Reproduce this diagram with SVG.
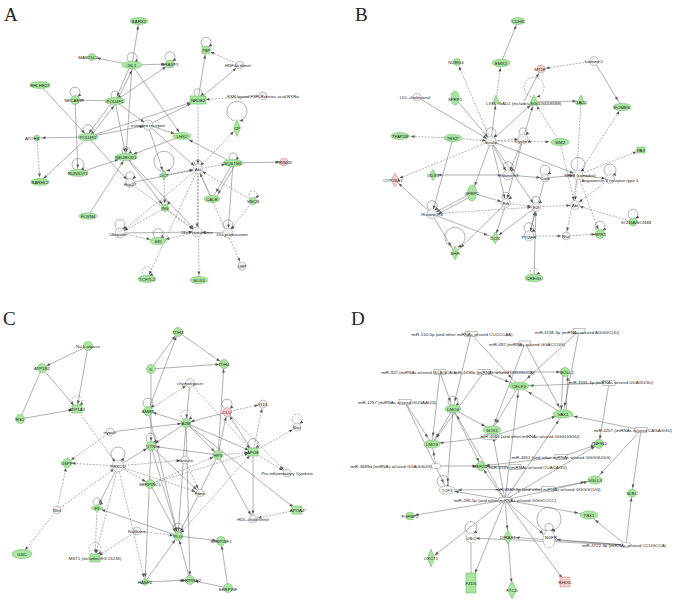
<svg xmlns="http://www.w3.org/2000/svg" width="686" height="606" viewBox="0 0 686 606">
<defs>
<style>
.g{fill:#a9e5a1;stroke:#74c46c;stroke-width:.6}
.w{fill:#f1f1f1;stroke:#a8a8a8;stroke-width:.6}
.wn{fill:#fff;stroke:#9a9a9a;stroke-width:.6}
.p{fill:#f6cccc;stroke:#d59a9a;stroke-width:.6}
.t{font-family:"Liberation Sans",Arial,sans-serif;font-size:4.4px;fill:#1e1e1e;text-anchor:middle;dominant-baseline:central}
.L{font-family:"Liberation Serif","Times New Roman",serif;font-size:19px;fill:#222}
.s,.d,.lp,.ld{stroke:#707070;stroke-width:.55;fill:none}
.d,.ld{stroke-dasharray:2 1.3}
.lp,.ld{marker-end:url(#a0)}
</style>
<marker id="a0" markerUnits="userSpaceOnUse" markerWidth="4" markerHeight="4" refX="3.5" refY="1.5" orient="auto" overflow="visible"><path d="M0,0L3.5,1.5L0,3z" fill="#555"/></marker>
<marker id="a5" markerUnits="userSpaceOnUse" markerWidth="4" markerHeight="4" refX="8.5" refY="1.5" orient="auto" overflow="visible"><path d="M0,0L3.5,1.5L0,3z" fill="#555"/></marker>
<marker id="a6" markerUnits="userSpaceOnUse" markerWidth="4" markerHeight="4" refX="9.5" refY="1.5" orient="auto" overflow="visible"><path d="M0,0L3.5,1.5L0,3z" fill="#555"/></marker>
<marker id="a8" markerUnits="userSpaceOnUse" markerWidth="4" markerHeight="4" refX="11.5" refY="1.5" orient="auto" overflow="visible"><path d="M0,0L3.5,1.5L0,3z" fill="#555"/></marker>
<marker id="a11" markerUnits="userSpaceOnUse" markerWidth="4" markerHeight="4" refX="14.5" refY="1.5" orient="auto" overflow="visible"><path d="M0,0L3.5,1.5L0,3z" fill="#555"/></marker>
</defs>
<rect width="686" height="606" fill="#fff"/>
<text class="L" x="4" y="21">A</text>
<text class="L" x="355" y="21">B</text>
<text class="L" x="3" y="325">C</text>
<text class="L" x="351" y="325">D</text>

<g id="connectors">
<!-- Panel A -->
<g class="s" marker-end="url(#a5)">
<line x1="132" y1="65" x2="139" y2="21"/><line x1="132" y1="65" x2="92" y2="57"/><line x1="132" y1="65" x2="170" y2="64"/>
<line x1="130" y1="66" x2="115" y2="101"/><line x1="117" y1="101" x2="134" y2="66"/><line x1="132" y1="65" x2="182" y2="136"/>
<line x1="132" y1="65" x2="126" y2="157"/><line x1="115" y1="101" x2="170" y2="64"/><line x1="115" y1="101" x2="75" y2="100"/>
<line x1="40" y1="85" x2="88" y2="137"/><line x1="198" y1="100" x2="206" y2="50"/><line x1="198" y1="100" x2="240" y2="65"/>
<line x1="115" y1="101" x2="148" y2="125"/><line x1="113" y1="101" x2="86" y2="137"/><line x1="90" y1="137" x2="117" y2="102"/>
<line x1="115" y1="101" x2="126" y2="157"/><line x1="88" y1="137" x2="37" y2="138"/><line x1="88" y1="137" x2="40" y2="182"/>
<line x1="88" y1="137" x2="130" y2="183"/><line x1="88" y1="137" x2="148" y2="125"/><line x1="75" y1="100" x2="78" y2="173"/>
<line x1="233" y1="163" x2="284" y2="162"/><line x1="130" y1="183" x2="198" y2="169"/><line x1="126" y1="157" x2="165" y2="208"/>
<line x1="212" y1="199" x2="198" y2="169"/><line x1="233" y1="163" x2="228" y2="233"/><line x1="120" y1="233" x2="197" y2="232"/>
<line x1="228" y1="233" x2="197" y2="232"/><line x1="88" y1="216" x2="126" y2="157"/><line x1="148" y1="125" x2="198" y2="169"/>
<line x1="126" y1="157" x2="197" y2="232"/><line x1="148" y1="125" x2="164" y2="175"/>
</g>
<g class="s" marker-end="url(#a8)">
<line x1="148" y1="125" x2="182" y2="136"/><line x1="88" y1="137" x2="198" y2="100"/><line x1="148" y1="125" x2="198" y2="100"/>
<line x1="78" y1="173" x2="126" y2="157"/><line x1="182" y1="136" x2="126" y2="157"/><line x1="233" y1="163" x2="182" y2="136"/>
<line x1="233" y1="163" x2="212" y2="199"/><line x1="235" y1="165" x2="214" y2="201"/>
</g>
<g class="d" marker-end="url(#a5)">
<line x1="240" y1="65" x2="206" y2="50"/><line x1="198" y1="100" x2="198" y2="169"/><line x1="37" y1="138" x2="40" y2="182"/>
<line x1="198" y1="169" x2="237" y2="128"/><line x1="164" y1="175" x2="198" y2="169"/><line x1="253" y1="201" x2="228" y2="233"/>
<line x1="198" y1="169" x2="197" y2="232"/><line x1="198" y1="169" x2="242" y2="266"/><line x1="198" y1="169" x2="199" y2="280"/>
<line x1="198" y1="169" x2="147" y2="279"/><line x1="198" y1="169" x2="120" y2="233"/><line x1="165" y1="208" x2="197" y2="232"/>
<line x1="165" y1="208" x2="120" y2="233"/><line x1="164" y1="175" x2="165" y2="208"/><line x1="130" y1="183" x2="197" y2="232"/>
<line x1="253" y1="201" x2="198" y2="169"/>
</g>
<g class="d" marker-end="url(#a8)">
<line x1="263" y1="96" x2="198" y2="100"/><line x1="198" y1="169" x2="233" y2="163"/><line x1="197" y1="232" x2="158" y2="241"/>
<line x1="120" y1="233" x2="158" y2="241"/>
</g>
<g>
<path class="lp" d="M129.5,62A5,5 0 1 1 134.5,62"/><path class="lp" d="M167.5,61A5,5 0 1 1 172.5,61"/>
<path class="lp" d="M203.5,46.5A5,5 0 1 1 208.5,46.5"/><path class="lp" d="M72.5,96.5A5,5 0 1 1 77.5,96.5"/>
<path class="lp" d="M112.5,98A4,4 0 1 1 117.5,98"/><path class="lp" d="M195.5,96A4,4 0 1 1 200.5,96"/>
<path class="lp" d="M85.5,134A5,5 0 1 1 90.5,134"/><path class="lp" d="M75.5,170A6,6 0 1 1 80.5,170"/>
<path class="lp" d="M234.5,121A10,10 0 1 1 239.5,121"/><path class="lp" d="M123.5,154A4,4 0 1 1 128.5,154"/>
<path class="lp" d="M161.5,171A10,10 0 1 1 166.5,171"/><path class="lp" d="M127.5,179A4,4 0 1 1 132.5,179"/>
<path class="lp" d="M195.5,165.5A3.5,3.5 0 1 1 200.5,165.5"/><path class="lp" d="M230.5,160A4,4 0 1 1 235.5,160"/>
<path class="ld" d="M250.5,198A4,4 0 1 1 255.5,198"/><path class="lp" d="M162.5,205A3,3 0 1 1 167.5,205"/>
<path class="lp" d="M117.5,229A5,5 0 1 1 122.5,229"/><path class="lp" d="M155.5,238A5,5 0 1 1 160.5,238"/>
<path class="lp" d="M225.5,229A5,5 0 1 1 230.5,229"/><path class="ld" d="M144.5,276A5,5 0 1 1 149.5,276"/>
</g>

<!-- Panel B -->
<g class="s" marker-end="url(#a5)">
<line x1="501" y1="63" x2="518" y2="21"/><line x1="524" y1="101" x2="541" y2="69"/><line x1="417" y1="97" x2="491" y2="141"/>
<line x1="455" y1="98" x2="491" y2="141"/><line x1="491" y1="141" x2="496" y2="101"/><line x1="491" y1="141" x2="534" y2="102"/>
<line x1="523" y1="139" x2="534" y2="102"/><line x1="534" y1="102" x2="581" y2="101"/><line x1="491" y1="141" x2="508" y2="175"/>
<line x1="491" y1="141" x2="536" y2="207"/><line x1="491" y1="141" x2="506" y2="203"/><line x1="491" y1="141" x2="578" y2="175"/>
<line x1="508" y1="175" x2="433" y2="175"/><line x1="523" y1="139" x2="508" y2="175"/><line x1="523" y1="139" x2="506" y2="203"/>
<line x1="578" y1="175" x2="610" y2="179"/><line x1="545" y1="178" x2="578" y2="175"/><line x1="508" y1="175" x2="545" y2="178"/>
<line x1="472" y1="193" x2="432" y2="214"/><line x1="474" y1="195" x2="434" y2="216"/><line x1="432" y1="214" x2="395" y2="180"/>
<line x1="506" y1="203" x2="495" y2="238"/><line x1="536" y1="207" x2="495" y2="238"/><line x1="534" y1="278" x2="536" y2="207"/>
<line x1="529" y1="236" x2="536" y2="207"/><line x1="453" y1="138" x2="432" y2="214"/><line x1="472" y1="193" x2="506" y2="203"/>
<line x1="545" y1="178" x2="529" y2="236"/>
</g>
<g class="s" marker-end="url(#a8)">
<line x1="594" y1="61" x2="622" y2="107"/><line x1="491" y1="141" x2="472" y2="193"/><line x1="432" y1="214" x2="455" y2="253"/>
<line x1="432" y1="214" x2="495" y2="238"/><line x1="506" y1="203" x2="455" y2="253"/>
</g>
<g class="d" marker-end="url(#a5)">
<line x1="491" y1="141" x2="457" y2="62"/><line x1="496" y1="101" x2="501" y2="63"/><line x1="594" y1="61" x2="541" y2="69"/>
<line x1="453" y1="138" x2="491" y2="141"/><line x1="560" y1="142" x2="534" y2="102"/><line x1="581" y1="101" x2="575" y2="205"/>
<line x1="578" y1="175" x2="622" y2="107"/><line x1="491" y1="141" x2="523" y2="139"/><line x1="491" y1="141" x2="395" y2="180"/>
<line x1="560" y1="142" x2="575" y2="205"/><line x1="578" y1="175" x2="641" y2="150"/><line x1="432" y1="214" x2="536" y2="207"/>
<line x1="506" y1="203" x2="536" y2="207"/><line x1="536" y1="207" x2="575" y2="205"/><line x1="633" y1="222" x2="575" y2="205"/>
<line x1="529" y1="236" x2="566" y2="236"/><line x1="566" y1="236" x2="600" y2="234"/><line x1="578" y1="175" x2="566" y2="236"/>
<line x1="578" y1="175" x2="600" y2="234"/><line x1="610" y1="179" x2="575" y2="205"/>
</g>
<g class="d" marker-end="url(#a11)">
<line x1="453" y1="138" x2="400" y2="136"/><line x1="491" y1="141" x2="560" y2="142"/>
</g>
<g>
<path class="lp" d="M488.5,137A5,5 0 1 1 493.5,137"/><path class="lp" d="M520.5,135A4,4 0 1 1 525.5,135"/>
<path class="ld" d="M531.5,97A10,10 0 1 1 536.5,97"/><path class="lp" d="M505.5,171A5,5 0 1 1 510.5,171"/>
<path class="lp" d="M542.5,174.5A5,5 0 1 1 547.5,174.5"/><path class="lp" d="M575.5,171A7,7 0 1 1 580.5,171"/>
<path class="lp" d="M607.5,175.5A6,6 0 1 1 612.5,175.5"/><path class="lp" d="M429.5,210A5,5 0 1 1 434.5,210"/>
<path class="lp" d="M452.5,247A10,10 0 1 1 457.5,247"/><path class="lp" d="M597.5,230.5A5,5 0 1 1 602.5,230.5"/>
<path class="lp" d="M526.5,232A5,5 0 1 1 531.5,232"/><path class="lp" d="M630.5,218.5A5,5 0 1 1 635.5,218.5"/>
<path class="ld" d="M531.5,275A4,4 0 1 1 536.5,275"/><path class="lp" d="M503.5,199.5A4,4 0 1 1 508.5,199.5"/>
<path class="lp" d="M533.5,203.5A4,4 0 1 1 538.5,203.5"/>
</g>

<!-- Panel C -->
<g class="s" marker-end="url(#a5)">
<line x1="88" y1="346" x2="42" y2="368"/><line x1="88" y1="346" x2="77" y2="409"/><line x1="42" y1="368" x2="77" y2="409"/>
<line x1="151" y1="369" x2="178" y2="332"/><line x1="148" y1="411" x2="178" y2="332"/><line x1="151" y1="369" x2="224" y2="364"/>
<line x1="178" y1="332" x2="224" y2="364"/><line x1="218" y1="455" x2="224" y2="364"/><line x1="151" y1="369" x2="151" y2="446"/>
<line x1="110" y1="432" x2="186" y2="423"/><line x1="186" y1="423" x2="148" y2="411"/><line x1="186" y1="423" x2="151" y2="446"/>
<line x1="186" y1="423" x2="218" y2="455"/><line x1="186" y1="423" x2="253" y2="452"/><line x1="227" y1="412" x2="186" y2="423"/>
<line x1="253" y1="452" x2="227" y2="412"/><line x1="218" y1="455" x2="227" y2="412"/><line x1="218" y1="455" x2="151" y2="446"/>
<line x1="186" y1="423" x2="297" y2="510"/><line x1="118" y1="466" x2="151" y2="446"/><line x1="150" y1="484" x2="178" y2="536"/>
<line x1="151" y1="446" x2="178" y2="536"/><line x1="178" y1="536" x2="97" y2="508"/><line x1="118" y1="466" x2="97" y2="508"/>
<line x1="178" y1="536" x2="221" y2="541"/><line x1="228" y1="588" x2="221" y2="541"/><line x1="145" y1="582" x2="178" y2="536"/>
<line x1="145" y1="582" x2="190" y2="580"/><line x1="228" y1="588" x2="190" y2="580"/><line x1="190" y1="580" x2="178" y2="536"/>
<line x1="151" y1="446" x2="145" y2="582"/><line x1="218" y1="455" x2="178" y2="536"/><line x1="186" y1="423" x2="190" y2="580"/>
<line x1="186" y1="423" x2="178" y2="536"/><line x1="148" y1="411" x2="178" y2="536"/><line x1="151" y1="446" x2="200" y2="493"/>
<line x1="218" y1="455" x2="253" y2="519"/><line x1="253" y1="452" x2="253" y2="519"/><line x1="190" y1="383" x2="186" y2="423"/>
<line x1="20" y1="419" x2="77" y2="409"/>
</g>
<line class="s" x1="42" y1="368" x2="20" y2="419"/>
<g class="d" marker-end="url(#a5)">
<line x1="148" y1="411" x2="190" y2="383"/><line x1="190" y1="383" x2="253" y2="452"/><line x1="77" y1="409" x2="118" y2="466"/>
<line x1="110" y1="432" x2="67" y2="463"/><line x1="227" y1="412" x2="263" y2="404"/><line x1="253" y1="452" x2="263" y2="404"/>
<line x1="253" y1="452" x2="297" y2="427"/><line x1="218" y1="455" x2="253" y2="452"/><line x1="253" y1="452" x2="287" y2="473"/>
<line x1="227" y1="412" x2="287" y2="473"/><line x1="118" y1="466" x2="67" y2="463"/><line x1="118" y1="466" x2="150" y2="484"/>
<line x1="118" y1="466" x2="185" y2="460"/><line x1="185" y1="460" x2="200" y2="493"/><line x1="118" y1="466" x2="200" y2="493"/>
<line x1="150" y1="484" x2="218" y2="455"/><line x1="150" y1="484" x2="253" y2="452"/><line x1="297" y1="510" x2="253" y2="519"/>
<line x1="178" y1="536" x2="253" y2="452"/><line x1="97" y1="508" x2="95" y2="558"/><line x1="137" y1="531" x2="178" y2="536"/>
<line x1="137" y1="531" x2="95" y2="558"/><line x1="118" y1="466" x2="95" y2="558"/><line x1="118" y1="466" x2="145" y2="582"/>
<line x1="57" y1="510" x2="22" y2="554"/><line x1="57" y1="510" x2="67" y2="463"/><line x1="57" y1="510" x2="118" y2="466"/>
</g>
<g>
<path class="ld" d="M74.5,405A5,5 0 1 1 79.5,405"/><path class="lp" d="M145.5,407.5A5,5 0 1 1 150.5,407.5"/>
<path class="ld" d="M183.5,419.5A5,5 0 1 1 188.5,419.5"/><path class="lp" d="M224.5,408.5A5,5 0 1 1 229.5,408.5"/>
<path class="ld" d="M294.5,423.5A5,5 0 1 1 299.5,423.5"/><path class="lp" d="M148.5,442.5A5,5 0 1 1 153.5,442.5"/>
<path class="lp" d="M250.5,448A5,5 0 1 1 255.5,448"/><path class="lp" d="M115.5,460.5A7,7 0 1 1 120.5,460.5"/>
<path class="lp" d="M94.5,505A4,4 0 1 1 99.5,505"/><path class="lp" d="M175.5,532.5A5,5 0 1 1 180.5,532.5"/>
<path class="ld" d="M92.5,554A6,6 0 1 1 97.5,554"/>
</g>

<!-- Panel D -->
<g class="s" marker-end="url(#a8)">
<line x1="471" y1="334" x2="453" y2="409"/><line x1="579" y1="331" x2="563" y2="414"/><line x1="525" y1="343" x2="563" y2="414"/>
<line x1="525" y1="343" x2="492" y2="430"/><line x1="440" y1="372" x2="432" y2="444"/><line x1="440" y1="372" x2="453" y2="409"/>
<line x1="484" y1="372" x2="432" y2="444"/><line x1="405" y1="402" x2="432" y2="444"/><line x1="453" y1="409" x2="492" y2="430"/>
<line x1="453" y1="409" x2="432" y2="444"/><line x1="453" y1="409" x2="447" y2="490"/><line x1="519" y1="386" x2="492" y2="430"/>
<line x1="641" y1="430" x2="595" y2="480"/><line x1="490" y1="437" x2="432" y2="444"/><line x1="490" y1="437" x2="563" y2="414"/>
<line x1="436" y1="466" x2="432" y2="444"/><line x1="505" y1="500" x2="508" y2="537"/><line x1="508" y1="537" x2="512" y2="590"/>
<line x1="505" y1="500" x2="549" y2="539"/><line x1="505" y1="500" x2="447" y2="490"/><line x1="505" y1="500" x2="492" y2="430"/>
<line x1="505" y1="500" x2="595" y2="480"/><line x1="505" y1="500" x2="563" y2="414"/><line x1="505" y1="500" x2="519" y2="386"/>
<line x1="505" y1="500" x2="453" y2="409"/><line x1="626" y1="545" x2="589" y2="515"/><line x1="626" y1="545" x2="508" y2="537"/>
<line x1="626" y1="545" x2="549" y2="539"/><line x1="405" y1="402" x2="447" y2="490"/>
</g>
<g class="s" marker-end="url(#a11)">
<line x1="471" y1="334" x2="519" y2="386"/><line x1="579" y1="331" x2="519" y2="386"/><line x1="484" y1="372" x2="519" y2="386"/>
<line x1="609" y1="383" x2="519" y2="386"/><line x1="563" y1="414" x2="519" y2="386"/><line x1="641" y1="430" x2="563" y2="414"/>
<line x1="548" y1="489" x2="595" y2="480"/><line x1="548" y1="489" x2="447" y2="490"/><line x1="505" y1="500" x2="589" y2="515"/>
</g>
<g class="s" marker-end="url(#a5)">
<line x1="484" y1="372" x2="565" y2="372"/><line x1="563" y1="372" x2="561" y2="414"/><line x1="566" y1="414" x2="568" y2="372"/>
<line x1="609" y1="383" x2="599" y2="444"/><line x1="453" y1="409" x2="481" y2="466"/><line x1="641" y1="430" x2="632" y2="493"/>
<line x1="561" y1="457" x2="599" y2="444"/><line x1="561" y1="457" x2="481" y2="466"/><line x1="436" y1="466" x2="481" y2="466"/>
<line x1="515" y1="467" x2="481" y2="466"/><line x1="505" y1="500" x2="410" y2="516"/><line x1="505" y1="500" x2="431" y2="558"/>
<line x1="505" y1="500" x2="565" y2="582"/><line x1="505" y1="500" x2="481" y2="466"/><line x1="505" y1="500" x2="599" y2="444"/>
<line x1="626" y1="545" x2="471" y2="538"/><line x1="626" y1="545" x2="632" y2="493"/>
</g>
<line class="s" x1="505" y1="500" x2="471" y2="583" marker-end="url(#a11)"/>
<line class="s" x1="471" y1="538" x2="471" y2="573"/>
<g>
<path class="lp" d="M450.5,405.5A5,5 0 1 1 455.5,405.5"/><path class="lp" d="M440.5,487A6,6 0 1 1 445.5,487"/>
<path class="lp" d="M468.5,533A6,6 0 1 1 473.5,533"/><path class="lp" d="M546.5,531A12,12 0 1 1 551.5,531"/>
<path class="lp" d="M547.5,531A4,4 0 1 1 550.5,531"/>
</g>
</g>

<!-- Panel A nodes -->
<g id="a-barx1"><ellipse class="g" cx="139" cy="21" rx="9" ry="3.4"/><text class="t" x="139" y="21">BARX1</text></g>
<g id="a-mab21l2"><circle class="g" cx="92" cy="57" r="3.5"/><text class="t" x="88" y="57">MAB21L2</text></g>
<g id="a-isl1"><ellipse class="g" cx="132" cy="65" rx="10" ry="3.6"/><text class="t" x="132" y="65">ISL1</text></g>
<g id="a-draxp1"><circle class="g" cx="170" cy="64" r="4"/><text class="t" x="170" y="64">DRAXP1</text></g>
<g id="a-tbp"><rect class="g" x="202" y="46.5" width="8" height="7"/><text class="t" x="206" y="50">TBP</text></g>
<g id="a-hnf4"><circle class="w" cx="240" cy="65" r="4"/><text class="t" x="238" y="65">HNF4α dimer</text></g>
<g id="a-bhlhe22"><ellipse class="g" cx="40" cy="85" rx="10" ry="3.4"/><text class="t" x="40" y="85">BHLHE22</text></g>
<g id="a-necab1"><circle class="g" cx="75" cy="100" r="4.5"/><text class="t" x="73" y="100">NECAB1</text></g>
<g id="a-pou4f1"><ellipse class="g" cx="115" cy="101" rx="10" ry="3.4"/><text class="t" x="115" y="101">POU4F1</text></g>
<g id="a-nr0b2"><rect class="g" x="190" y="96" width="16" height="8"/><text class="t" x="198" y="100">NR0B2</text></g>
<g id="a-fxr"><circle class="w" cx="263" cy="96" r="4"/><text class="t" x="263" y="96">FXR ligand-FXR-Retinoic acid-RXRα</text></g>
<g id="a-er"><circle class="w" cx="148" cy="125" r="5"/><text class="t" x="148" y="125">estrogen receptor</text></g>
<g id="a-atoh8"><circle class="g" cx="37" cy="138" r="3"/><text class="t" x="32" y="138">ATOH8</text></g>
<g id="a-pou4f2"><ellipse class="g" cx="88" cy="137" rx="10" ry="3.6"/><text class="t" x="88" y="137">POU4F2</text></g>
<g id="a-lhx2"><ellipse class="g" cx="182" cy="136" rx="9" ry="3.4"/><text class="t" x="182" y="136">LHX2</text></g>
<g id="a-cp"><polygon class="g" points="237,119.5 240.5,128 237,136.5 233.5,128"/><text class="t" x="237" y="128">CP</text></g>
<g id="a-neurod1"><ellipse class="g" cx="126" cy="157" rx="11" ry="3.6"/><text class="t" x="126" y="157">NEUROD1</text></g>
<g id="a-runx1t1"><ellipse class="g" cx="78" cy="173" rx="10" ry="3.4"/><text class="t" x="78" y="173">RUNX1T1</text></g>
<g id="a-barhl2"><ellipse class="g" cx="40" cy="182" rx="9" ry="3.4"/><text class="t" x="40" y="182">BARHL2</text></g>
<g id="a-dct"><polygon class="g" points="164,170 167,175 164,180 161,175"/><text class="t" x="164" y="175">DCT</text></g>
<g id="a-akt"><circle class="w" cx="198" cy="169" r="5"/><text class="t" x="198" y="169">Akt</text></g>
<g id="a-sqstm1"><ellipse class="g" cx="233" cy="163" rx="10" ry="3.4"/><text class="t" x="233" y="163">SQSTM1</text></g>
<g id="a-trim69"><circle class="p" cx="284" cy="162" r="4"/><text class="t" x="284" y="162">TRIM69</text></g>
<g id="a-hsp27"><circle class="w" cx="130" cy="183" r="4.5"/><text class="t" x="130" y="184">Hsp27</text></g>
<g id="a-calr"><ellipse class="g" cx="212" cy="199" rx="8" ry="3.4"/><text class="t" x="212" y="199">CALR</text></g>
<g id="a-sncb"><circle class="g" cx="253" cy="201" r="3.5"/><text class="t" x="253" y="201">SNCB</text></g>
<g id="a-ins"><circle class="g" cx="165" cy="208" r="3.5"/><text class="t" x="165" y="208">INS</text></g>
<g id="a-foxn4"><ellipse class="g" cx="88" cy="216" rx="9" ry="3.2"/><text class="t" x="88" y="216">FOXN4</text></g>
<g id="a-ubiquitin"><circle class="w" cx="120" cy="233" r="5"/><text class="t" x="118" y="234">Ubiquitin</text></g>
<g id="a-ski"><ellipse class="g" cx="158" cy="241" rx="8" ry="3.6"/><text class="t" x="158" y="241">SKI</text></g>
<g id="a-p26"><circle class="w" cx="197" cy="232" r="5"/><text class="t" x="197" y="232">26s Proteasome</text></g>
<g id="a-p20"><circle class="w" cx="228" cy="233" r="5"/><text class="t" x="232" y="234">20s proteasome</text></g>
<g id="a-lrp"><circle class="w" cx="242" cy="266" r="4"/><text class="t" x="242" y="266">LRP</text></g>
<g id="a-tcf7l2"><ellipse class="g" cx="147" cy="279" rx="9" ry="3.4"/><text class="t" x="147" y="279">TCF7L2</text></g>
<g id="a-sox4"><ellipse class="g" cx="199" cy="280" rx="9" ry="3.6"/><text class="t" x="199" y="280">SOX4</text></g>

<!-- Panel B nodes -->
<g id="b-cdh6"><ellipse class="g" cx="518" cy="21" rx="7" ry="3.4"/><text class="t" x="518" y="21">CDH6</text></g>
<g id="b-ndrg4"><circle class="g" cx="457" cy="62" r="3.5"/><text class="t" x="456" y="62">NDRG4</text></g>
<g id="b-emx2"><ellipse class="g" cx="501" cy="63" rx="9" ry="3.8"/><text class="t" x="501" y="63">EMX2</text></g>
<g id="b-mt1f"><circle class="p" cx="541" cy="69" r="4"/><text class="t" x="540" y="69">MT1F</text></g>
<g id="b-laminin1"><circle class="w" cx="594" cy="61" r="4.5"/><text class="t" x="594" y="61">Laminin1</text></g>
<g id="b-ldl"><circle class="w" cx="417" cy="97" r="4"/><text class="t" x="415" y="97">LDL-cholesterol</text></g>
<g id="b-sfrp2"><ellipse class="g" cx="455" cy="98" rx="4" ry="7"/><text class="t" x="455" y="99">SFRP2</text></g>
<g id="b-lig1"><polygon class="g" points="496,95 500,104 492,104"/><text class="t" x="491" y="103">LIG1</text></g>
<g id="b-gad1"><polygon class="g" points="534,95 539,105 529,105"/><text class="t" x="530" y="103">GAD1 (includes EG:100008588)</text></g>
<g id="b-gad2"><polygon class="g" points="581,95 585.5,104.5 576.5,104.5"/><text class="t" x="581" y="102">GAD2</text></g>
<g id="b-eomes"><ellipse class="g" cx="622" cy="107" rx="9" ry="3.6"/><text class="t" x="622" y="107">EOMES</text></g>
<g id="b-tfap2b"><ellipse class="g" cx="400" cy="136" rx="9" ry="3.4"/><text class="t" x="400" y="136">TFAP2B</text></g>
<g id="b-tbx2"><ellipse class="g" cx="453" cy="138" rx="9" ry="3.6"/><text class="t" x="453" y="138">TBX2*</text></g>
<g id="b-insulin"><circle class="w" cx="491" cy="141" r="5"/><text class="t" x="491" y="142">Insulin</text></g>
<g id="b-cyclina"><circle class="w" cx="523" cy="139" r="5"/><text class="t" x="523" y="141">Cyclin A</text></g>
<g id="b-sim2"><ellipse class="g" cx="560" cy="142" rx="9" ry="3.6"/><text class="t" x="560" y="142">SIM2</text></g>
<g id="b-pax"><rect class="g" x="637" y="147" width="8" height="6"/><text class="t" x="641" y="150">PAX</text></g>
<g id="b-cyp26a1"><polygon class="p" points="395,173 399,180 395,187 391,180"/><text class="t" x="393" y="180">CYP26A1</text></g>
<g id="b-ddx4"><polygon class="g" points="433,169.5 436.5,175 433,180.5 429.5,175"/><text class="t" x="433" y="175">DDX4</text></g>
<g id="b-histoneh3"><circle class="w" cx="508" cy="175" r="5"/><text class="t" x="508" y="175">Histone h3</text></g>
<g id="b-creb"><circle class="w" cx="545" cy="178" r="4"/><text class="t" x="545" y="178">Creb</text></g>
<g id="b-nfkb"><circle class="w" cx="578" cy="175" r="5"/><text class="t" x="580" y="175">NFkB (complex)</text></g>
<g id="b-at1"><circle class="w" cx="610" cy="179" r="4.5"/><text class="t" x="610" y="180">Angiotensin II receptor type 1</text></g>
<g id="b-sfrp1"><ellipse class="g" cx="472" cy="193" rx="4.5" ry="8"/><text class="t" x="472" y="193">SFRP1</text></g>
<g id="b-erk"><circle class="w" cx="506" cy="203" r="4.5"/><text class="t" x="506" y="203">Erk</text></g>
<g id="b-e2f"><circle class="w" cx="536" cy="207" r="4.5"/><text class="t" x="536" y="207">E2f</text></g>
<g id="b-akt"><circle class="w" cx="575" cy="205" r="4.5"/><text class="t" x="575" y="205">Akt</text></g>
<g id="b-scn"><circle class="g" cx="633" cy="222" r="4"/><text class="t" x="636" y="222">SCN3A/SCN3B</text></g>
<g id="b-histoneh4"><circle class="w" cx="432" cy="214" r="5"/><text class="t" x="432" y="214">Histone H4</text></g>
<g id="b-dcn"><polygon class="g" points="495,232 498.5,238 495,244 491.5,238"/><text class="t" x="495" y="238">DCN</text></g>
<g id="b-ptgfr"><circle class="w" cx="529" cy="236" r="5"/><text class="t" x="529" y="237">PTGFR</text></g>
<g id="b-ras"><circle class="w" cx="566" cy="236" r="4"/><text class="t" x="566" y="236">Ras</text></g>
<g id="b-npr3"><circle class="g" cx="600" cy="234" r="4.5"/><text class="t" x="600" y="234">NPR3</text></g>
<g id="b-shh"><polygon class="g" points="455,246 458.5,253 455,260 451.5,253"/><text class="t" x="455" y="253">SHH</text></g>
<g id="b-creg1"><ellipse class="g" cx="534" cy="278" rx="9" ry="3.8"/><text class="t" x="534" y="278">CREG1</text></g>

<!-- Panel C nodes -->
<g id="c-nak"><circle class="g" cx="88" cy="346" r="4.5"/><text class="t" x="88" y="346">Na-k-atpase</text></g>
<g id="c-itih3"><circle class="g" cx="178" cy="332" r="4.5"/><text class="t" x="178" y="332">ITIH3</text></g>
<g id="c-atp1b2"><circle class="g" cx="42" cy="368" r="4.5"/><text class="t" x="42" y="368">ATP1B2</text></g>
<g id="c-il"><circle class="g" cx="151" cy="369" r="4.5"/><text class="t" x="151" y="369">IL</text></g>
<g id="c-itih4"><circle class="g" cx="224" cy="364" r="4.5"/><text class="t" x="224" y="364">ITIH4</text></g>
<g id="c-chy"><circle class="w" cx="190" cy="383" r="4.5"/><text class="t" x="190" y="383">chymotrypsin</text></g>
<g id="c-vldl"><circle class="w" cx="263" cy="404" r="4"/><text class="t" x="263" y="404">VLDL</text></g>
<g id="c-atp1a3"><rect class="g" x="72" y="405" width="10" height="8"/><text class="t" x="77" y="409">ATP1A3</text></g>
<g id="c-rs1"><circle class="g" cx="20" cy="419" r="4.5"/><text class="t" x="20" y="419">RS1</text></g>
<g id="c-ambp"><circle class="g" cx="148" cy="411" r="4.5"/><text class="t" x="148" y="411">AMBP</text></g>
<g id="c-a2m"><circle class="g" cx="186" cy="423" r="4.5"/><text class="t" x="186" y="423">A2M</text></g>
<g id="c-clu"><circle class="p" cx="227" cy="412" r="4.5"/><text class="t" x="227" y="412">CLU</text></g>
<g id="c-trypsin"><circle class="w" cx="110" cy="432" r="4"/><text class="t" x="110" y="432">trypsin</text></g>
<g id="c-nos"><circle class="w" cx="297" cy="427" r="4"/><text class="t" x="297" y="427">Nos</text></g>
<g id="c-vtn"><circle class="g" cx="151" cy="446" r="4.5"/><text class="t" x="151" y="446">VTN</text></g>
<g id="c-hpx"><circle class="g" cx="218" cy="455" r="4.5"/><text class="t" x="218" y="455">HPX</text></g>
<g id="c-apoe"><rect class="g" x="248" y="448" width="10" height="8"/><text class="t" x="253" y="452">APOE</text></g>
<g id="c-dspp"><circle class="g" cx="67" cy="463" r="4.5"/><text class="t" x="67" y="463">DSPP</text></g>
<g id="c-elastase"><circle class="w" cx="185" cy="460" r="4"/><text class="t" x="185" y="460">elastase</text></g>
<g id="c-prkcd"><circle class="w" cx="118" cy="466" r="6"/><text class="t" x="118" y="466">PRKCD</text></g>
<g id="c-pic"><circle class="w" cx="287" cy="473" r="4"/><text class="t" x="287" y="473">Pro-inflammatory Cytokine</text></g>
<g id="c-serpinc1"><circle class="g" cx="150" cy="484" r="4.5"/><text class="t" x="150" y="484">SERPINC1</text></g>
<g id="c-fibrin"><circle class="w" cx="200" cy="493" r="4"/><text class="t" x="200" y="493">Fibrin</text></g>
<g id="c-f9"><polygon class="g" points="91,508 97,504.5 103,508 97,511.5"/><text class="t" x="97" y="508">F9</text></g>
<g id="c-wnt"><circle class="w" cx="57" cy="510" r="4"/><text class="t" x="57" y="510">Wnt</text></g>
<g id="c-apoa4"><rect class="g" x="292" y="506" width="10" height="8"/><text class="t" x="298" y="510">APOA4*</text></g>
<g id="c-hdlc"><circle class="w" cx="253" cy="519" r="4"/><text class="t" x="253" y="519">HDL-cholesterol</text></g>
<g id="c-kallikrein"><circle class="w" cx="137" cy="531" r="4"/><text class="t" x="137" y="531">Kallikrein</text></g>
<g id="c-plg"><circle class="g" cx="178" cy="536" r="4.5"/><text class="t" x="178" y="536">PLG</text></g>
<g id="c-serpinf1"><circle class="g" cx="221" cy="541" r="4.5"/><text class="t" x="221" y="541">SERPINF1</text></g>
<g id="c-gsc"><ellipse class="g" cx="22" cy="554" rx="10" ry="4.5"/><text class="t" x="22" y="554">GSC</text></g>
<g id="c-mst1"><rect class="g" x="90" y="554" width="10" height="8"/><text class="t" x="95" y="558">MST1 (includes EG:15235)</text></g>
<g id="c-habp2"><polygon class="g" points="139,582 145,578.5 151,582 145,585.5"/><text class="t" x="145" y="582">HABP2</text></g>
<g id="c-serpine2"><circle class="g" cx="190" cy="580" r="4.5"/><text class="t" x="190" y="580">SERPINE2</text></g>
<g id="c-serpinf"><circle class="g" cx="228" cy="588" r="4.5"/><text class="t" x="228" y="589">SERPINF</text></g>

<!-- Panel D nodes -->
<g id="d-m150"><rect class="wn" x="465" y="331.5" width="12" height="5"/><text class="t" x="462" y="334">miR-150-5p (and other miRNAs w/seed CUCCCAA)</text></g>
<g id="d-m3158"><rect class="wn" x="573" y="328.5" width="12" height="5"/><text class="t" x="577" y="332">miR-3158-3p (miRNAs w/seed AGGGCUU)</text></g>
<g id="d-m492"><rect class="wn" x="519" y="341" width="12" height="5"/><text class="t" x="527" y="344">miR-492 (miRNAs w/seed GGACCUG)</text></g>
<g id="d-m922"><rect class="wn" x="434" y="369.5" width="12" height="5"/><text class="t" x="419" y="372">miR-922 (miRNAs w/seed GCAGCAG)</text></g>
<g id="d-m2"><rect class="wn" x="478" y="369.5" width="12" height="5"/><text class="t" x="494" y="372">miR-4436b (miRNAs w/seed UGUGUCA)</text></g>
<g id="d-boll2"><circle class="g" cx="565" cy="372" r="4.5"/><text class="t" x="567" y="372">BOLL2</text></g>
<g id="d-celf3"><ellipse class="g" cx="519" cy="386" rx="10" ry="3.8"/><text class="t" x="519" y="386">CELF3</text></g>
<g id="d-m3591"><rect class="wn" x="603" y="380.5" width="12" height="5"/><text class="t" x="611" y="382">miR-3591-5p (miRNAs w/seed UUAGUGU)</text></g>
<g id="d-m1257"><rect class="wn" x="399" y="399.5" width="12" height="5"/><text class="t" x="397" y="402">miR-1257 (miRNAs w/seed GUGAAUG)</text></g>
<g id="d-lmo4"><ellipse class="g" cx="453" cy="409" rx="8" ry="3.8"/><text class="t" x="453" y="409">LMO4</text></g>
<g id="d-vax1"><ellipse class="g" cx="563" cy="414" rx="10" ry="4"/><text class="t" x="563" y="414">VAX1</text></g>
<g id="d-sox1"><ellipse class="g" cx="492" cy="430" rx="9" ry="4"/><text class="t" x="492" y="430">SOX1</text></g>
<g id="d-m4257"><rect class="wn" x="635" y="427.5" width="12" height="5"/><text class="t" x="633" y="430">miR-4257 (miRNAs w/seed CAGAGGU)</text></g>
<g id="d-mx"><rect class="wn" x="484" y="434.5" width="12" height="5"/><text class="t" x="530" y="436">miR-4466 (and other miRNAs w/seed GGGUGGU)</text></g>
<g id="d-lmo3"><ellipse class="g" cx="432" cy="444" rx="8" ry="4"/><text class="t" x="432" y="444">LMO3</text></g>
<g id="d-znf362"><circle class="g" cx="599" cy="444" r="4.5"/><text class="t" x="599" y="443">ZNF362</text></g>
<g id="d-m4651"><rect class="wn" x="555" y="454.5" width="12" height="5"/><text class="t" x="561" y="457">miR-4651 (and other miRNAs w/seed GGGGUGG)</text></g>
<g id="d-m3689"><ellipse class="wn" cx="436" cy="466" rx="5" ry="2.5"/><text class="t" x="391" y="466">miR-3689d (miRNAs w/seed GGAGGUG)</text></g>
<g id="d-mcu"><rect class="wn" x="509" y="464.5" width="12" height="5"/><text class="t" x="528" y="467">miR-4745 (miRNAs w/seed CUACAGU)</text></g>
<g id="d-mef2c"><circle class="g" cx="481" cy="466" r="4.5"/><text class="t" x="480" y="466">MEF2C</text></g>
<g id="d-vgll3"><ellipse class="g" cx="595" cy="480" rx="7" ry="4"/><text class="t" x="595" y="480">VGLL3</text></g>
<g id="d-tcf3"><ellipse class="wn" cx="447" cy="490" rx="8" ry="4"/><text class="t" x="447" y="490">TCF3</text></g>
<g id="d-m6132"><rect class="wn" x="542" y="486.5" width="12" height="5"/><text class="t" x="548" y="489">miR-3180-5p (and other miRNAs w/seed GGGGCUG)</text></g>
<g id="d-slrc"><circle class="g" cx="632" cy="493" r="4"/><text class="t" x="632" y="493">SLRC</text></g>
<g id="d-m296"><rect class="wn" x="499" y="497.5" width="12" height="5"/><text class="t" x="505" y="500">miR-296-5p (and other miRNAs w/seed GGGCCCC)</text></g>
<g id="d-fgfbp2"><circle class="g" cx="410" cy="516" r="4"/><text class="t" x="410" y="516">FGFBP2</text></g>
<g id="d-tbx1"><ellipse class="g" cx="589" cy="515" rx="9" ry="4"/><text class="t" x="589" y="515">TBX1</text></g>
<g id="d-ubc"><circle class="wn" cx="471" cy="538" r="5"/><text class="t" x="471" y="538">UBC</text></g>
<g id="d-diras1"><polygon class="g" points="508,530 512,537 508,544 504,537"/><text class="t" x="508" y="537">DIRAS1</text></g>
<g id="d-ngfr"><ellipse class="wn" cx="549" cy="539" rx="6" ry="9"/><text class="t" x="551" y="537">NGFR</text></g>
<g id="d-m4722"><ellipse class="wn" cx="626" cy="545" rx="5" ry="2.5"/><text class="t" x="624" y="545">miR-4722-3p (miRNAs w/seed CCUGCCA)</text></g>
<g id="d-oxct1"><polygon class="g" points="431,549 434.5,558 431,567 427.5,558"/><text class="t" x="431" y="558">OXCT1</text></g>
<g id="d-fzd5"><rect class="g" x="466" y="573" width="10" height="20"/><text class="t" x="471" y="583">FZD5</text></g>
<g id="d-ftcd"><polygon class="g" points="512,581 516.5,590 512,599 507.5,590"/><text class="t" x="512" y="590">FTCD</text></g>
<g id="d-rhod"><rect class="p" x="560" y="577" width="10" height="10"/><text class="t" x="565" y="582">RHOD</text></g>
</svg>
